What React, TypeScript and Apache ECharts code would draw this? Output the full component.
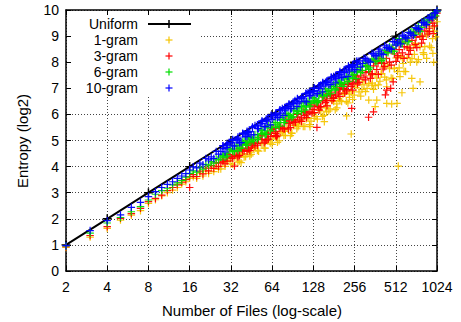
import React, { useEffect, useRef } from "react";
import * as echarts from "echarts";

// Number of files (x) shared by the first per-series lists
const filesN = [
  2, 3, 4, 5, 6, 7, 8, 9, 10, 11, 12, 13, 14, 15, 16,
  17, 18, 19, 20, 21, 22, 23, 24, 25, 26,
  28, 29, 30, 32, 34, 36, 38, 40, 42, 44,
  47, 50, 53, 56, 59, 62, 66, 70, 74, 78,
  82, 87, 92, 97, 102, 108, 114, 120, 127, 134,
  141, 149, 157, 166, 175, 185, 195, 206, 217, 229,
  242, 255, 269, 284, 300, 316, 334, 352, 372, 392,
  414, 437, 461, 487, 514, 542, 572, 604, 637, 672,
  710, 749, 790, 834, 880, 929, 980, 1024,
];

const entropy10 = [
  0.97, 1.55, 1.93, 2.15, 2.44, 2.63, 2.85, 3.04, 3.2, 3.32, 3.42, 3.55, 3.64, 3.73, 3.87,
  3.99, 3.95, 4.13, 4.07, 4.31, 4.26, 4.37, 4.31, 4.58, 4.48,
  4.69, 4.56, 4.73, 4.92, 4.79, 5.02, 4.92, 5.26, 5.15, 5.34,
  5.22, 5.46, 5.66, 5.53, 5.74, 5.6, 5.95, 5.88, 6.05, 5.96,
  6.3, 6.22, 6.4, 6.3, 6.49, 6.68, 6.48, 6.71, 6.89, 6.79,
  6.99, 6.86, 7.23, 7.14, 7.32, 7.21, 7.52, 7.43, 7.6, 7.46,
  7.82, 7.72, 7.93, 7.82, 8.15, 8.08, 8.0, 8.31, 8.24, 8.5,
  8.29, 8.57, 8.53, 8.79, 8.65, 8.86, 9.04, 8.94, 9.14, 9.04,
  9.33, 9.29, 9.53, 9.5, 9.7, 9.74, 9.88, 9.97,
];

const entropy6 = [
  0.96, 1.45, 1.84, 2.05, 2.27, 2.47, 2.72, 2.94, 3.08, 3.17, 3.3, 3.38, 3.47, 3.6, 3.74,
  3.84, 3.79, 3.97, 3.9, 4.09, 4.06, 4.19, 4.13, 4.29, 4.26,
  4.45, 4.36, 4.51, 4.67, 4.57, 4.79, 4.7, 4.98, 4.92, 5.1,
  4.98, 5.22, 5.41, 5.29, 5.48, 5.37, 5.69, 5.63, 5.81, 5.69,
  6.03, 5.96, 6.14, 6.04, 6.25, 6.44, 6.28, 6.47, 6.64, 6.49,
  6.74, 6.7, 6.98, 6.91, 7.07, 6.93, 7.27, 7.19, 7.36, 7.26,
  7.62, 7.53, 7.71, 7.6, 7.95, 7.85, 7.78, 8.12, 8.04, 8.34,
  8.13, 8.37, 8.59, 8.43, 8.66, 8.9, 8.71, 8.94, 8.8, 9.17,
  9.07, 9.39, 9.33, 9.58, 9.53, 9.76, 9.79, 9.94,
];

const entropy3 = [
  0.93, 1.36, 1.7, 2.02, 2.2, 2.4, 2.66, 2.78, 2.91, 3.08, 3.2, 3.3, 3.4, 3.5, 3.62,
  3.69, 3.62, 3.83, 3.72, 3.94, 3.84, 4.04, 3.93, 4.14, 4.0,
  4.29, 4.11, 4.36, 4.32, 4.59, 4.37, 4.67, 4.6, 4.87, 4.61,
  4.94, 4.89, 5.18, 4.91, 5.23, 5.15, 5.46, 5.21, 5.53, 5.44,
  5.81, 5.49, 5.8, 6.0, 5.79, 6.11, 5.88, 6.36, 6.19, 6.45,
  6.16, 6.52, 6.45, 6.8, 6.53, 6.85, 6.79, 7.14, 6.81, 7.14,
  7.07, 7.49, 7.17, 7.5, 7.43, 7.85, 7.38, 7.86, 7.72, 8.14,
  7.74, 8.15, 8.0, 8.51, 8.03, 8.48, 8.36, 8.86, 8.3, 8.84,
  8.67, 9.2, 8.73, 9.2, 9.08, 9.61, 9.39, 9.88,
];

const entropy1 = [
  0.9, 1.3, 1.63, 1.95, 2.14, 2.31, 2.59, 2.73, 2.88, 3.0, 3.1, 3.2, 3.33, 3.42, 3.55,
  3.61, 3.55, 3.75, 3.64, 3.84, 3.74, 3.94, 3.81, 4.02, 3.9,
  4.16, 4.01, 4.21, 4.1, 4.37, 4.17, 4.47, 4.37, 4.59, 4.41,
  4.7, 4.62, 4.91, 4.71, 4.98, 4.9, 5.19, 4.93, 5.29, 5.19,
  5.48, 5.19, 5.57, 5.45, 5.77, 5.54, 5.83, 5.61, 6.07, 5.92,
  6.19, 5.92, 6.25, 6.13, 6.55, 6.18, 6.61, 6.49, 6.84, 6.44,
  6.87, 6.74, 7.12, 6.7, 7.13, 7.0, 7.48, 6.96, 7.39, 7.27,
  7.81, 7.32, 7.75, 7.38, 8.16, 7.78, 8.16, 7.64, 8.52, 8.14,
  8.72, 8.1, 8.98, 8.6, 9.18, 8.56, 9.19, 9.55,
];

// Second set of file counts (interleaved) shared by the second per-series lists
const filesN2 = [
  27, 31, 33, 35, 37, 39, 41, 43, 45,
  48, 51, 54, 57, 60, 64, 68, 72, 76, 80,
  84, 89, 94, 99, 105, 111, 117, 123, 130, 137,
  145, 153, 161, 170, 180, 190, 200, 211, 223, 235,
  248, 262, 276, 292, 308, 325, 343, 362, 382, 403,
  425, 449, 474, 500, 528, 557, 588, 620, 654, 691,
  729, 769, 812, 857, 904, 954, 1000,
];

const entropy10b = [
  4.58, 4.92, 4.79, 5.03, 4.91, 5.25, 5.16, 5.31, 5.21,
  5.57, 5.45, 5.66, 5.53, 5.87, 5.8, 5.97, 5.89, 6.23, 6.14,
  6.31, 6.22, 6.53, 6.43, 6.61, 6.51, 6.83, 6.72, 6.9, 6.8,
  7.13, 7.06, 7.23, 7.14, 7.45, 7.37, 7.52, 7.42, 7.74, 7.66,
  7.81, 7.71, 8.05, 7.95, 8.13, 8.04, 8.34, 8.25, 8.42, 8.32,
  8.63, 8.55, 8.49, 8.79, 8.74, 8.7, 9.0, 8.92, 9.1, 9.03,
  9.29, 9.27, 9.52, 9.44, 9.7, 9.7, 9.89,
];

const entropy6b = [
  4.36, 4.67, 4.59, 4.81, 4.71, 4.94, 4.88, 5.13, 4.97,
  5.23, 5.12, 5.38, 5.23, 5.58, 5.5, 5.69, 5.55, 5.89, 5.8,
  5.97, 5.88, 6.22, 6.13, 6.31, 6.17, 6.51, 6.42, 6.6, 6.46,
  6.83, 6.71, 6.88, 6.79, 7.15, 7.07, 7.22, 7.07, 7.44, 7.36,
  7.51, 7.37, 7.79, 7.69, 7.87, 7.72, 8.12, 8.02, 8.2, 8.06,
  8.45, 8.36, 8.54, 8.42, 8.79, 8.72, 8.9, 8.78, 9.15, 9.08,
  9.26, 9.17, 9.52, 9.44, 9.64, 9.82, 9.77,
];

const entropy3b = [
  4.14, 4.47, 4.32, 4.58, 4.43, 4.69, 4.86, 4.68, 4.91,
  4.79, 5.05, 5.21, 4.98, 5.23, 5.42, 5.19, 5.52, 5.47, 5.77,
  5.44, 5.78, 5.71, 6.03, 5.73, 6.07, 6.02, 6.36, 6.07, 6.35,
  6.3, 6.66, 6.33, 6.71, 6.61, 7.02, 6.69, 7.0, 6.9, 7.28,
  6.93, 7.33, 7.23, 7.67, 7.32, 7.64, 7.54, 8.05, 7.53, 7.98,
  7.83, 8.41, 7.89, 8.32, 8.19, 8.77, 8.15, 8.58, 8.45, 9.13,
  8.56, 8.99, 8.87, 9.39, 9.17, 9.5, 9.77,
];

const entropy1b = [
  3.91, 4.25, 4.09, 4.38, 4.21, 4.49, 4.38, 4.65, 4.47,
  4.74, 4.59, 4.88, 4.71, 5.01, 4.85, 5.14, 4.99, 5.35, 5.2,
  5.44, 5.28, 5.64, 5.53, 5.73, 5.54, 5.87, 5.74, 6.07, 5.82,
  6.13, 5.96, 6.35, 6.21, 6.49, 6.25, 6.54, 6.77, 6.5, 6.78,
  6.57, 7.03, 6.86, 7.27, 6.87, 7.19, 7.12, 7.55, 7.13, 7.56,
  7.43, 7.89, 7.39, 7.77, 7.64, 8.22, 7.65, 8.18, 8.0, 8.63,
  8.01, 8.59, 8.37, 9.04, 8.62, 9.35, 8.97,
];

// Third set of file counts (middle range, where the bands are densest)
const filesN3 = [
  28, 30, 33, 36, 39, 42, 46, 50, 54, 58, 63, 68, 73, 79, 85, 91,
  98, 105, 113, 121, 130, 140, 150, 161, 173, 186, 200, 215, 231, 248, 266,
];

const entropy10c = [
  4.79, 4.83, 5.0, 5.07, 5.26, 5.32, 5.5, 5.56, 5.73, 5.78, 5.95, 6.0, 6.16, 6.22, 6.38, 6.42,
  6.59, 6.63, 6.79, 6.84, 7.0, 7.04, 7.2, 7.24, 7.4, 7.44, 7.6, 7.66, 7.81, 7.88, 8.0,
];

// 10-gram points lying right at the uniform bound
const entropy10d = [
  4.8, 4.87, 5.04, 5.13, 5.28, 5.35, 5.52, 5.6, 5.75, 5.82, 5.97, 6.05, 6.18, 6.26, 6.4, 6.47,
  6.61, 6.67, 6.81, 6.88, 7.01, 7.09, 7.22, 7.29, 7.43, 7.5, 7.64, 7.71, 7.85, 7.91, 8.05,
];

const entropy6c = [
  4.41, 4.41, 4.62, 4.62, 4.84, 4.81, 5.04, 5.04, 5.26, 5.24, 5.5, 5.49, 5.69, 5.68, 5.93, 5.91,
  6.12, 6.11, 6.34, 6.32, 6.52, 6.53, 6.75, 6.75, 6.98, 6.98, 7.19, 7.2, 7.4, 7.4, 7.64,
];

const entropy3c = [
  4.21, 4.21, 4.39, 4.42, 4.6, 4.59, 4.82, 4.82, 5.04, 5.01, 5.28, 5.27, 5.47, 5.45, 5.71, 5.69,
  5.9, 5.87, 6.12, 6.1, 6.3, 6.29, 6.53, 6.53, 6.76, 6.74, 6.98, 6.97, 7.2, 7.17, 7.44,
];

// Additional 3-gram observations (spread and outliers)
const extra3N = [16, 34, 34, 45, 60, 68, 69, 85, 95, 110, 125, 136, 145, 160, 180, 200, 225, 244, 250, 275, 310, 324, 345, 352, 380, 420, 430, 440, 470, 490, 530, 590, 650, 720, 800, 900, 960];
const extra3Y = [3.2, 4.02, 4.44, 4.75, 5.05, 5.35, 5.15, 5.65, 5.7, 5.95, 6.05, 5.5, 6.3, 6.6, 6.65, 6.95, 6.95, 6.23, 7.25, 7.35, 7.6, 5.89, 7.55, 6.1, 7.95, 7.95, 6.75, 6.93, 7.0, 7.25, 8.25, 8.6, 8.55, 8.95, 9.0, 9.3, 9.1];

// Additional 1-gram observations (spread and outliers)
const extra1N = [38, 45, 64, 80, 89, 100, 121, 130, 154, 160, 190, 224, 235, 242, 290, 325, 345, 362, 362, 372, 400, 440, 440, 478, 500, 523, 534, 550, 568, 580, 670, 685, 700, 770, 820, 860, 950, 955, 968];
const extra1Y = [4.15, 4.55, 5.05, 5.35, 5.27, 5.6, 5.53, 5.85, 5.72, 6.1, 6.4, 5.94, 6.65, 5.25, 6.95, 6.55, 7.2, 6.3, 7.1, 6.55, 7.55, 6.42, 7.06, 6.4, 7.75, 6.42, 4.02, 7.45, 6.83, 7.95, 7.38, 7.0, 8.3, 7.25, 8.3, 8.15, 8.9, 8.34, 8.0];

const uniformN = [2, 4, 8, 16, 32, 64, 128, 256, 512, 1024];
const uniformY = [1, 2, 3, 4, 5, 6, 7, 8, 9, 10];

const legendNames = ["Uniform", "1-gram", "3-gram", "6-gram", "10-gram"];
const seriesColors = ["#000000", "#f5c400", "#ff0000", "#00dd00", "#0000ff"];

const PLUS = "path://M4.2,0H5.8V4.2H10V5.8H5.8V10H4.2V5.8H0V4.2H4.2Z";
const FONT = "'Liberation Sans', Arial, Helvetica, sans-serif";

const zip = (xs: number[], ys: number[]) => xs.map((x, i) => [x, ys[i]]);

export default function App() {
  const ref = useRef<HTMLDivElement>(null);
  useEffect(() => {
    if (!ref.current) return;
    const chart = echarts.init(ref.current, null, { renderer: "svg" });
    const gridL = 66, gridT = 10, gridR = 24, gridB = 51;

    const scatter = (name: string, color: string, data: number[][]) => ({
      name,
      type: "scatter",
      data,
      symbol: PLUS,
      symbolSize: 7.5,
      itemStyle: { color, opacity: 0.95 },
      xAxisIndex: 0,
      yAxisIndex: 0,
      z: 3,
    });

    const legendRows = [24, 40, 56, 72, 88];
    const els: any[] = [
      { type: "rect", shape: { x: 72, y: 16, width: 128, height: 80 }, style: { fill: "#fff" }, z: 50 },
    ];
    legendNames.forEach((nm, i) => {
      const y = legendRows[i];
      els.push({
        type: "text",
        x: 138,
        y,
        style: { text: nm, fontSize: 14, lineHeight: 14, fontFamily: FONT, fill: "#000", align: "right", verticalAlign: "middle" },
        z: 51,
      });
      const c = seriesColors[i];
      if (i === 0) {
        els.push({ type: "line", shape: { x1: 148, y1: y, x2: 191, y2: y }, style: { stroke: c, lineWidth: 2 }, z: 51 });
        els.push({ type: "line", shape: { x1: 169, y1: y - 4, x2: 169, y2: y + 4 }, style: { stroke: c, lineWidth: 1.5 }, z: 51 });
      } else {
        els.push({ type: "line", shape: { x1: 165.5, y1: y, x2: 172.5, y2: y }, style: { stroke: c, lineWidth: 1.2 }, z: 51 });
        els.push({ type: "line", shape: { x1: 169, y1: y - 3.5, x2: 169, y2: y + 3.5 }, style: { stroke: c, lineWidth: 1.2 }, z: 51 });
      }
    });
    els.push({
      type: "text",
      x: 252,
      y: 310,
      style: { text: "Number of Files (log-scale)", fontSize: 15, fontFamily: FONT, fill: "#000", align: "center", verticalAlign: "middle" },
      z: 51,
    });
    els.push({
      type: "text",
      x: 22,
      y: 141,
      rotation: Math.PI / 2,
      style: { text: "Entropy (log2)", fontSize: 15, fontFamily: FONT, fill: "#000", align: "center", verticalAlign: "middle" },
      z: 51,
    });

    const axisCommon = {
      axisLine: { show: true, onZero: false, lineStyle: { color: "#000", width: 1.5 } },
      axisTick: { show: true, inside: true, length: 5, lineStyle: { color: "#000", width: 1 } },
    };
    const gridLine = { show: true, lineStyle: { color: "#444", type: [1, 2], width: 1 } };

    chart.setOption({
      animation: false,
      backgroundColor: "#fff",
      grid: { left: gridL, top: gridT, right: gridR, bottom: gridB, containLabel: false },
      xAxis: [
        {
          type: "log",
          logBase: 2,
          min: 2,
          max: 1024,
          splitNumber: 10,
          position: "bottom",
          ...axisCommon,
          axisLabel: {
            fontSize: 14,
            fontFamily: FONT,
            color: "#000",
            margin: 9,
            formatter: (v: number) => String(Math.round(v)),
          },
          splitLine: gridLine,
        },
        {
          type: "log",
          logBase: 2,
          min: 2,
          max: 1024,
          splitNumber: 10,
          position: "top",
          ...axisCommon,
          axisLabel: { show: false },
          splitLine: { show: false },
        },
      ],
      yAxis: [
        {
          type: "value",
          min: 0,
          max: 10,
          interval: 1,
          position: "left",
          ...axisCommon,
          axisLabel: { fontSize: 14, fontFamily: FONT, color: "#000", margin: 7 },
          splitLine: gridLine,
        },
        {
          type: "value",
          min: 0,
          max: 10,
          interval: 1,
          position: "right",
          ...axisCommon,
          axisLabel: { show: false },
          splitLine: { show: false },
        },
      ],
      graphic: { elements: els },
      series: [
        {
          name: "Uniform",
          type: "line",
          data: zip(uniformN, uniformY),
          symbol: PLUS,
          symbolSize: 9,
          showSymbol: true,
          itemStyle: { color: "#000" },
          lineStyle: { color: "#000", width: 2 },
          xAxisIndex: 0,
          yAxisIndex: 0,
          z: 2,
        },
        scatter("1-gram", seriesColors[1], [...zip(filesN, entropy1), ...zip(filesN2, entropy1b), ...zip(extra1N, extra1Y)]),
        scatter("3-gram", seriesColors[2], [...zip(filesN, entropy3), ...zip(filesN2, entropy3b), ...zip(filesN3, entropy3c), ...zip(extra3N, extra3Y)]),
        scatter("6-gram", seriesColors[3], [...zip(filesN, entropy6), ...zip(filesN2, entropy6b), ...zip(filesN3, entropy6c)]),
        scatter("10-gram", seriesColors[4], [...zip(filesN, entropy10), ...zip(filesN2, entropy10b), ...zip(filesN3, entropy10c), ...zip(filesN3, entropy10d)]),
      ],
    });
    return () => chart.dispose();
  }, []);
  return (
    <div
      ref={ref}
      style={{ position: "absolute", left: 0, top: 0, width: 461, height: 322, background: "#fff" }}
    />
  );
}
